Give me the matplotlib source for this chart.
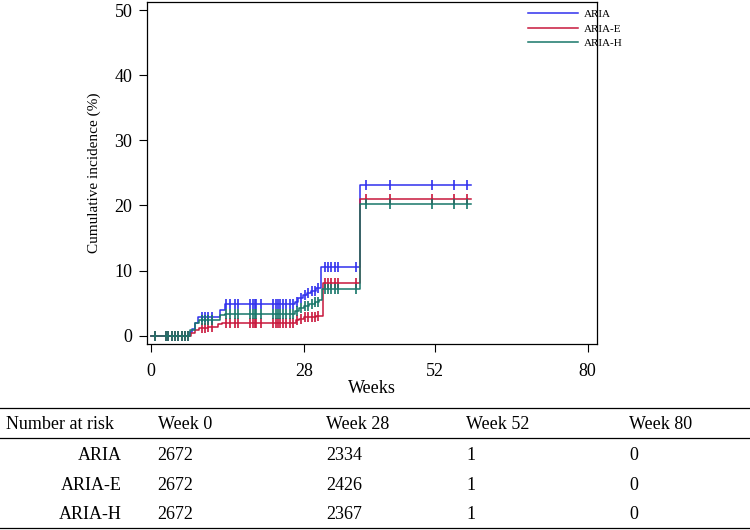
import numpy as np
import matplotlib
matplotlib.use("Agg")
import matplotlib.pyplot as plt
from matplotlib.lines import Line2D

plt.rcParams["font.family"] = ["Liberation Serif", "DejaVu Serif"]

# step curves: week of each step and cumulative incidence (%) from that week on
aria_weeks = [0, 7.1, 7.5, 8.0, 8.7, 12.6, 13.5, 26.3, 27.0, 27.8, 28.5, 29.3, 30.2, 31.2, 38.2]
aria_inc = [0, 0.5, 1.1, 2.0, 2.9, 4.0, 4.8, 5.2, 5.75, 6.2, 6.6, 6.9, 7.3, 10.5, 23.2]

ariae_weeks = [0, 7.3, 8.0, 8.8, 10.5, 12.2, 13.0, 26.5, 27.2, 28.0, 29.0, 30.2, 31.5, 38.2]
ariae_inc = [0, 0.4, 0.9, 1.2, 1.4, 1.75, 2.0, 2.4, 2.6, 2.8, 2.9, 3.0, 8.1, 21.0]

ariah_weeks = [0, 7.2, 8.0, 8.8, 12.6, 13.5, 26.4, 27.2, 28.0, 29.0, 30.0, 30.8, 31.3, 38.2]
ariah_inc = [0, 0.9, 1.9, 2.4, 3.2, 3.4, 3.8, 4.2, 4.5, 4.8, 5.1, 5.5, 7.2, 20.3]

end_week = 58.7

# censoring times (weeks)
censor_weeks = [0.7, 2.7, 3.2, 3.8, 4.4, 5.0, 5.6, 6.2, 6.8,
                9.3, 9.9, 10.5, 11.1, 13.8, 14.5, 15.4, 16.0,
                18.1, 18.6, 19.0, 19.3, 20.2, 22.4, 22.9, 23.3, 23.6,
                24.2, 24.8, 25.4, 26.0, 26.8, 27.5, 28.2, 28.8, 29.5,
                30.0, 30.6, 31.8, 32.4, 33.0, 33.7, 34.3, 37.6,
                39.3, 43.7, 51.4, 55.5, 57.9]

series_names = ["ARIA", "ARIA-E", "ARIA-H"]
series_colors = ["#3030ee", "#c8173c", "#17776a"]

# number at risk table
risk_weeks = ["Week 0", "Week 28", "Week 52", "Week 80"]
risk_aria = [2672, 2334, 1, 0]
risk_ariae = [2672, 2426, 1, 0]
risk_ariah = [2672, 2367, 1, 0]

fig = plt.figure(figsize=(7.5, 5.3), dpi=100)
W, H = 750, 530
ax = fig.add_axes([147 / W, 1 - 344 / H, 450 / W, 342.3 / H])

curves = [(aria_weeks, aria_inc), (ariae_weeks, ariae_inc), (ariah_weeks, ariah_inc)]
for (wk, inc), name, col in zip(curves, series_names, series_colors):
    wk = np.array(wk + [end_week])
    inc = np.array(inc + [inc[-1]])
    ax.step(wk, inc, where="post", color=col, lw=1.1, label=name)
    cw = np.array(censor_weeks)
    idx = np.searchsorted(wk, cw, side="right") - 1
    ax.plot(cw, inc[idx], ls="none", marker="|", ms=6.5, mew=1.2, color=col)

ax.set_xlim(-0.73, 81.7)
ax.set_ylim(-1.28, 51.3)
ax.set_xticks([0, 28, 52, 80])
ax.set_yticks([0, 10, 20, 30, 40, 50])
ax.tick_params(direction="out", length=5.5, width=0.8, labelsize=13)
ax.tick_params(axis="x", pad=8)
ax.tick_params(axis="y", pad=5)
for s in ax.spines.values():
    s.set_linewidth(0.9)
ax.set_xlabel("Weeks", fontsize=13, labelpad=0)
ax.set_ylabel("Cumulative incidence (%)", fontsize=11, labelpad=10)

ax.legend(loc="upper left", bbox_to_anchor=(527.7 / W, 1 - 9 / H),
          bbox_transform=fig.transFigure, frameon=False, fontsize=8,
          handlelength=4.5, handletextpad=0.6, labelspacing=0.45,
          borderpad=0, borderaxespad=0)

# number at risk table
for y in [407.7, 437.7, 528.3]:
    fig.add_artist(Line2D([0, 1], [1 - y / H] * 2, color="black", lw=0.9,
                          transform=fig.transFigure))

col_x = [157.5, 326, 466, 629]
fig.text(6 / W, 1 - 424.3 / H, "Number at risk", fontsize=13, va="center")
for x, lab in zip(col_x, risk_weeks):
    fig.text(x / W, 1 - 424.3 / H, lab, fontsize=13, va="center")

rows = [risk_aria, risk_ariae, risk_ariah]
row_y = [456, 485, 514.3]
for name, vals, y in zip(series_names, rows, row_y):
    fig.text(121.7 / W, 1 - y / H, name, fontsize=13, va="center", ha="right")
    for x, v in zip(col_x, vals):
        fig.text(x / W, 1 - y / H, str(v), fontsize=13, va="center")

fig.savefig("out.png", dpi=100)
